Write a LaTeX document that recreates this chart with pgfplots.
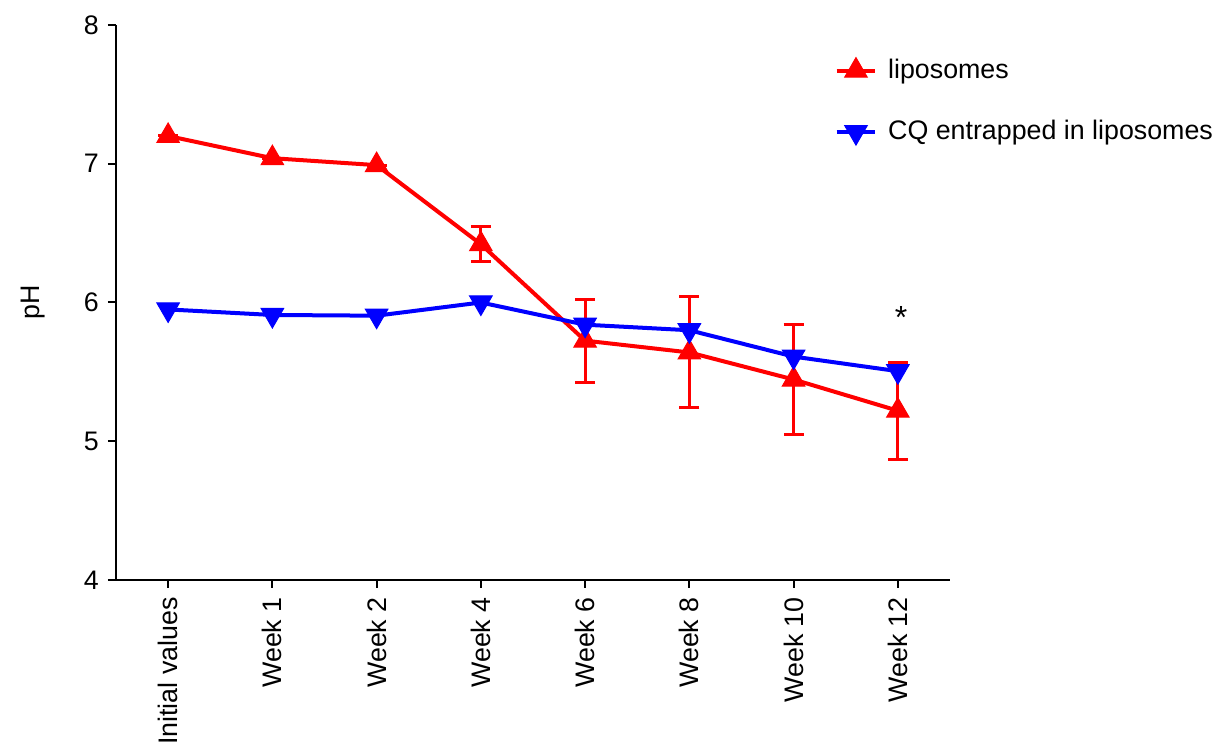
\documentclass[border=0pt]{standalone}
\usepackage{fontspec}
\setmainfont{Liberation Sans}
\usepackage{pgfplots}
\pgfplotsset{compat=1.18}
\begin{document}
\fontsize{13.4}{16}\selectfont
\begin{tikzpicture}
\useasboundingbox (-58pt,-81.5pt) rectangle (550pt,290pt);
\begin{axis}[
  scale only axis,
  width=417pt, height=277.5pt,
  xmin=-0.5, xmax=7.5, ymin=4, ymax=8,
  axis x line*=bottom, axis y line*=left,
  axis line style={line width=1pt, -},
  xtick={0,...,7},
  xticklabels={Initial values,Week 1,Week 2,Week 4,Week 6,Week 8,Week 10,Week 12},
  x tick label style={rotate=90, anchor=east, font=\fontsize{13.4}{16}\selectfont},
  ytick={4,5,6,7,8},
  y tick label style={font=\fontsize{13.4}{16}\selectfont},
  /pgf/number format/assume math mode=true,
  tick align=outside, tick pos=left,
  major tick length=4pt,
  tick style={line width=1pt, black},
  ylabel={pH},
  ylabel shift=10pt,
  ylabel style={font=\fontsize{13.4}{16}\selectfont},
  clip=false,
  legend style={draw=none, fill=none, at={(0.854,0.954)}, anchor=north west,
    font=\fontsize{13.4}{16}\selectfont, row sep=15pt, cells={anchor=west}},
  legend image code/.code={\draw[#1, line width=2pt, mark repeat=2, mark phase=2] plot coordinates {(0cm,0cm) (0.34cm,0cm) (0.68cm,0cm)};\path (0.8cm,0cm);},
]
\addplot[red, line width=2pt, mark=triangle*, mark size=6.5pt, mark options={solid, line width=0.5pt},
  error bars/.cd, y dir=both, y explicit, error bar style={line width=1.5pt, red},
  error mark options={rotate=90, mark size=5pt, line width=1.5pt, red}]
  coordinates {
  (0,7.20) +- (0,0)
  (1,7.04) +- (0,0)
  (2,6.99) +- (0,0)
  (3,6.42) +- (0,0.125)
  (4,5.725) +- (0,0.30)
  (5,5.64) +- (0,0.40)
  (6,5.445) +- (0,0.395)
  (7,5.22) +- (0,0.35)
  };
\addlegendentry{liposomes}
\addplot[blue, line width=2pt, mark=triangle*, mark size=6.5pt, mark options={solid, rotate=180, line width=0.5pt}]
  coordinates {
  (0,5.95) (1,5.91) (2,5.905) (3,6.00) (4,5.84) (5,5.80) (6,5.61) (7,5.505)
  };
\addlegendentry{CQ entrapped in liposomes}
\node[font=\fontsize{16}{16}\selectfont] at (axis cs:7.03,5.89) {*};
\end{axis}
\end{tikzpicture}
\end{document}
